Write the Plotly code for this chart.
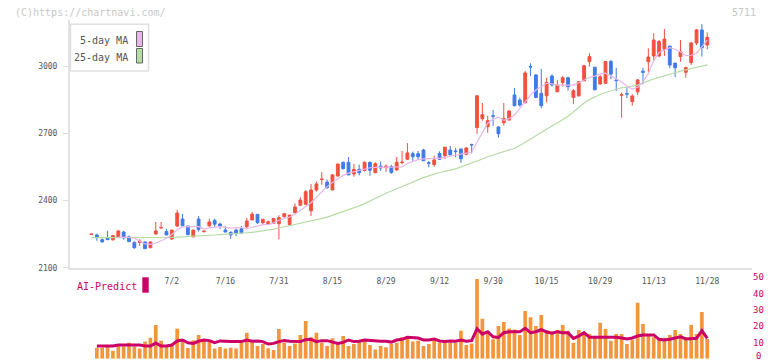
import plotly.graph_objects as go

# ---------------- data ----------------
dates = [
    "6/11", "6/12", "6/13", "6/16", "6/17", "6/18", "6/19", "6/20", "6/23", "6/24",
    "6/25", "6/26", "6/27", "6/30",
    "7/1", "7/2", "7/3", "7/4", "7/7", "7/8", "7/9", "7/10", "7/11", "7/14", "7/15",
    "7/16", "7/17", "7/18", "7/22", "7/23", "7/24", "7/25", "7/28", "7/29", "7/30", "7/31",
    "8/1", "8/4", "8/5", "8/6", "8/7", "8/8", "8/12", "8/13", "8/14", "8/15", "8/18",
    "8/19", "8/20", "8/21", "8/22", "8/25", "8/26", "8/27", "8/28", "8/29",
    "9/1", "9/2", "9/3", "9/4", "9/5", "9/8", "9/9", "9/10", "9/11", "9/12", "9/16",
    "9/17", "9/18", "9/19", "9/22", "9/24", "9/25", "9/26", "9/29", "9/30",
    "10/1", "10/2", "10/3", "10/6", "10/7", "10/8", "10/9", "10/10", "10/14", "10/15",
    "10/16", "10/17", "10/20", "10/21", "10/22", "10/23", "10/24", "10/27", "10/28",
    "10/29", "10/30", "10/31",
    "11/4", "11/5", "11/6", "11/7", "11/10", "11/11", "11/12", "11/13", "11/14",
    "11/17", "11/18", "11/19", "11/20", "11/21", "11/25", "11/26", "11/27", "11/28",
]

opens = [
    2248, 2246, 2225, 2234, 2225, 2237, 2259, 2238, 2213, 2213,
    2215, 2189, 2250, 2277, 2261, 2228, 2286, 2317, 2286, 2238,
    2317, 2261, 2287, 2311, 2295, 2268, 2258, 2268, 2274, 2283,
    2313, 2338, 2301, 2295, 2298, 2296, 2327, 2292, 2345, 2379,
    2383, 2354, 2447, 2493, 2482, 2447, 2509, 2570, 2570, 2518,
    2539, 2534, 2570, 2524, 2553, 2547, 2552, 2536, 2569, 2584,
    2609, 2609, 2625, 2568, 2560, 2610, 2600, 2625, 2621, 2630,
    2606, 2650, 2725, 2765, 2729, 2778, 2728, 2747, 2759, 2871,
    2848, 2836, 2998, 2960, 2878, 2867, 2955, 2885, 2926, 2948,
    2860, 2867, 2934, 3019, 2995, 2920, 2923, 3020, 2937, 2870,
    2877, 2841, 2885, 2977, 3019, 3045, 3045, 3075, 3089, 3013,
    3042, 2972, 3015, 3103, 3161, 3094,
]
highs = [
    2252, 2252, 2231, 2265, 2246, 2267, 2264, 2243, 2218, 2227,
    2215, 2215, 2304, 2304, 2274, 2268, 2359, 2340, 2286, 2268,
    2331, 2264, 2319, 2319, 2301, 2286, 2262, 2275, 2286, 2323,
    2349, 2338, 2316, 2310, 2322, 2334, 2345, 2335, 2387, 2414,
    2447, 2474, 2484, 2527, 2494, 2518, 2563, 2574, 2594, 2563,
    2560, 2574, 2574, 2571, 2574, 2561, 2559, 2594, 2621, 2656,
    2618, 2621, 2630, 2576, 2601, 2619, 2638, 2643, 2634, 2630,
    2638, 2653, 2871, 2835, 2778, 2804, 2732, 2835, 2804, 2902,
    2859, 2978, 3012, 2964, 2987, 2948, 2963, 2938, 2955, 2952,
    2897, 2933, 3005, 3057, 2995, 2960, 3022, 3027, 2992, 2881,
    2906, 2874, 2942, 2992, 3079, 3146, 3116, 3165, 3089, 3013,
    3116, 2997, 3108, 3165, 3188, 3150,
]
lows = [
    2246, 2220, 2213, 2225, 2220, 2234, 2225, 2216, 2185, 2198,
    2185, 2189, 2250, 2276, 2245, 2225, 2282, 2285, 2247, 2234,
    2261, 2257, 2283, 2282, 2273, 2259, 2229, 2240, 2250, 2273,
    2313, 2295, 2290, 2292, 2296, 2227, 2325, 2287, 2343, 2376,
    2381, 2331, 2439, 2470, 2452, 2445, 2506, 2538, 2514, 2506,
    2512, 2530, 2510, 2521, 2532, 2528, 2519, 2533, 2561, 2581,
    2577, 2581, 2577, 2548, 2551, 2581, 2585, 2601, 2593, 2568,
    2601, 2610, 2698, 2756, 2702, 2732, 2680, 2734, 2757, 2820,
    2818, 2834, 2955, 2856, 2811, 2838, 2908, 2883, 2908, 2890,
    2830, 2863, 2932, 2997, 2892, 2915, 2920, 2941, 2888, 2769,
    2857, 2823, 2871, 2918, 2972, 3019, 3039, 3045, 2990, 2950,
    3019, 2948, 3005, 3094, 3042, 3075,
]
closes = [
    2250, 2234, 2215, 2225, 2243, 2264, 2233, 2216, 2189, 2219,
    2185, 2215, 2264, 2279, 2246, 2268, 2344, 2287, 2247, 2268,
    2271, 2263, 2304, 2294, 2286, 2259, 2246, 2253, 2256, 2308,
    2339, 2301, 2316, 2305, 2319, 2323, 2341, 2335, 2371, 2402,
    2439, 2447, 2474, 2495, 2457, 2514, 2563, 2542, 2514, 2539,
    2524, 2570, 2535, 2564, 2545, 2553, 2525, 2571, 2571, 2612,
    2595, 2595, 2577, 2566, 2581, 2584, 2638, 2604, 2618, 2586,
    2634, 2648, 2867, 2783, 2756, 2776, 2698, 2765, 2799, 2823,
    2826, 2969, 2996, 2860, 2823, 2927, 2915, 2915, 2948, 2908,
    2890, 2930, 3001, 3042, 2894, 2952, 3020, 2964, 2935, 2872,
    2875, 2866, 2938, 2972, 3040, 3116, 3109, 3120, 3004, 2992,
    3064, 2993, 3103, 3161, 3082, 3128,
]

ma5 = [
    None, None, None, None, None, 2236, 2236, 2235, 2232, 2220,
    2206, 2204, 2210, 2220, 2231, 2248, 2270, 2282, 2284, 2283,
    2283, 2272, 2278, 2282, 2283, 2280, 2277, 2279, 2279, 2274,
    2280, 2288, 2292, 2292, 2300, 2312, 2318, 2326, 2338, 2355,
    2372, 2390, 2414, 2440, 2462, 2480, 2498, 2512, 2522, 2528,
    2536, 2543, 2546, 2548, 2548, 2548, 2548, 2548, 2550, 2565,
    2575, 2582, 2586, 2588, 2588, 2588, 2594, 2598, 2603, 2607,
    2611, 2615, 2660, 2705, 2745, 2762, 2772, 2758, 2765, 2781,
    2810, 2841, 2870, 2893, 2910, 2923, 2920, 2915, 2915, 2914,
    2915, 2925, 2938, 2950, 2955, 2965, 2968, 2955, 2945, 2930,
    2910, 2897, 2905, 2930, 2966, 3025, 3060, 3071, 3082, 3075,
    3064, 3046, 3048, 3057, 3085, 3116,
]
ma25 = [
    2234, 2234, 2233, 2233, 2233, 2232, 2232, 2232, 2232, 2232,
    2232, 2233, 2233, 2234, 2234, 2235, 2236, 2237, 2238, 2240,
    2242, 2243, 2244, 2246, 2248, 2249, 2251, 2253, 2254, 2256,
    2258, 2261, 2264, 2268, 2272, 2277, 2282, 2287, 2292, 2297,
    2302, 2308, 2314, 2320, 2326, 2334, 2342, 2350, 2358, 2366,
    2376, 2386, 2398, 2410, 2422, 2432, 2442, 2452, 2462, 2472,
    2483, 2494, 2502, 2510, 2518, 2525, 2530, 2535, 2541, 2550,
    2558, 2566, 2576, 2585, 2595, 2603, 2611, 2618, 2626, 2633,
    2645, 2660, 2675, 2690, 2705, 2718, 2732, 2746, 2760, 2776,
    2795, 2815, 2835, 2850, 2862, 2873, 2882, 2890, 2897, 2903,
    2906, 2909, 2915, 2925, 2935, 2942, 2949, 2957, 2964, 2970,
    2977, 2983, 2988, 2995, 3000, 3005,
]

ai_dates = dates[1:]
ai_bars = [
    6.8, 6.8, 8.0, 4.9, 7.6, 7.6, 9.8, 7.6, 6.2, 10.5,
    12.9, 20.7, 11.1, 7.8, 7.8, 18.4, 12.1, 6.6, 11.3, 14.6,
    11.1, 10.5, 6.2, 7.2, 6.2, 6.8, 6.2, 11.1, 16.0, 11.0,
    7.8, 9.0, 6.4, 5.3, 18.2, 9.8, 7.8, 9.4, 14.6, 23.2,
    13.1, 16.0, 9.8, 7.8, 12.5, 9.4, 14.0, 7.8, 9.0, 10.7,
    11.9, 8.4, 5.7, 7.8, 7.0, 9.0, 9.8, 13.1, 14.0, 10.5,
    11.1, 7.8, 9.0, 11.9, 9.8, 9.8, 9.8, 9.8, 17.2, 8.4,
    9.4, 48.9, 24.6, 16.6, 11.9, 20.1, 22.6, 18.6, 18.0, 14.6,
    29.3, 25.4, 20.1, 26.8, 17.6, 16.6, 17.6, 20.7, 17.2, 9.8,
    17.6, 15.2, 15.2, 13.9, 22.1, 18.2, 11.1, 15.2, 15.2, 9.0,
    11.5, 34.4, 21.3, 15.2, 13.1, 12.5, 12.9, 14.6, 17.6, 15.2,
    13.1, 20.7, 15.2, 28.7, 12.1,
]
ai_line = [
    7.8, 7.8, 7.8, 7.8, 8.4, 8.4, 8.4, 8.4, 8.4, 7.8,
    7.8, 9.6, 7.8, 7.8, 8.4, 10.9, 11.5, 9.8, 9.4, 10.7,
    11.5, 11.1, 9.8, 10.9, 10.5, 10.5, 10.5, 10.5, 11.5, 10.7,
    10.9, 10.5, 9.0, 9.4, 10.5, 11.1, 10.7, 10.5, 10.5, 11.7,
    11.9, 10.5, 11.1, 11.1, 10.2, 9.4, 10.0, 11.5, 10.5, 10.7,
    11.5, 11.1, 10.7, 10.7, 10.7, 10.2, 11.5, 11.9, 13.1, 13.1,
    12.7, 11.5, 11.5, 12.1, 10.9, 10.5, 10.9, 10.7, 11.5, 10.7,
    11.1, 18.4, 15.1, 16.6, 13.5, 13.1, 16.0, 16.6, 16.6, 16.6,
    18.7, 16.0, 16.6, 17.8, 16.4, 15.6, 16.6, 16.0, 16.0, 12.5,
    13.9, 16.0, 13.1, 13.1, 13.1, 13.5, 13.1, 13.1, 12.7, 12.1,
    12.7, 13.9, 14.6, 14.6, 14.6, 11.9, 11.5, 11.9, 12.5, 13.5,
    12.1, 12.1, 12.5, 17.2, 12.5,
]

tick_labels = ["7/2", "7/16", "7/31", "8/15", "8/29", "9/12", "9/30",
               "10/15", "10/29", "11/13", "11/28"]
price_ticks = [2100, 2400, 2700, 3000]
ai_ticks = [0, 10, 20, 30, 40, 50]

# ---------------- style ----------------
W, H = 772, 361
RED = "#f2503f"
BLUE = "#3f7be9"
PINK = "#e9b6ea"
GREEN = "#b6dca6"
ORANGE = "#f2963e"
MAGENTA = "#cc0066"
AXIS = "#e2e2e2"
TXT = "#555555"
MONO = "DejaVu Sans Mono"


def fx(px):
    return px / W


def fy(py):
    return 1 - py / H


XR = [-4.02, 123.36]

fig = go.Figure()

fig.add_trace(go.Scatter(x=dates, y=ma25, mode="lines", line=dict(color=GREEN, width=1.2),
                         xaxis="x", yaxis="y", hoverinfo="skip"))
fig.add_trace(go.Scatter(x=dates, y=ma5, mode="lines", line=dict(color=PINK, width=1.2),
                         xaxis="x", yaxis="y", hoverinfo="skip"))
fig.add_trace(go.Candlestick(
    x=dates, open=opens, high=highs, low=lows, close=closes,
    increasing=dict(line=dict(color=RED, width=1), fillcolor=RED),
    decreasing=dict(line=dict(color=BLUE, width=1), fillcolor=BLUE),
    whiskerwidth=0, xaxis="x", yaxis="y"))

fig.add_trace(go.Bar(x=ai_dates, y=ai_bars, marker=dict(color=ORANGE, line=dict(width=0)),
                     xaxis="x2", yaxis="y2"))
fig.add_trace(go.Scatter(x=ai_dates, y=ai_line, mode="lines",
                         line=dict(color=MAGENTA, width=3), xaxis="x2", yaxis="y2"))

shapes = [
    dict(type="rect", xref="paper", yref="paper", x0=fx(70.5), x1=fx(148.5),
         y0=fy(71), y1=fy(24.3), line=dict(color="#e0e0e0", width=1.5), fillcolor="white"),
    dict(type="rect", xref="paper", yref="paper", x0=fx(136.5), x1=fx(142.5),
         y0=fy(46.5), y1=fy(31.5), line=dict(color="#666666", width=1), fillcolor=PINK),
    dict(type="rect", xref="paper", yref="paper", x0=fx(136.5), x1=fx(142.5),
         y0=fy(63), y1=fy(48.5), line=dict(color="#666666", width=1), fillcolor=GREEN),
    dict(type="rect", xref="paper", yref="paper", x0=fx(142.3), x1=fx(148.7),
         y0=fy(292.7), y1=fy(277.3), line=dict(width=0), fillcolor=MAGENTA),
]

annotations = [
    dict(text="5-day MA", x=fx(130), y=fy(40.7), xref="paper", yref="paper",
         xanchor="right", yanchor="middle", showarrow=False,
         font=dict(family=MONO, size=10, color=TXT)),
    dict(text="25-day MA", x=fx(130), y=fy(57.3), xref="paper", yref="paper",
         xanchor="right", yanchor="middle", showarrow=False,
         font=dict(family=MONO, size=10, color=TXT)),
    dict(text="(C)https://chartnavi.com/", x=fx(13), y=fy(12.3), xref="paper", yref="paper",
         xanchor="left", yanchor="middle", showarrow=False,
         font=dict(family=MONO, size=10, color="#c8c8c8")),
    dict(text="5711", x=fx(758), y=fy(12.3), xref="paper", yref="paper",
         xanchor="right", yanchor="middle", showarrow=False,
         font=dict(family=MONO, size=10, color="#c8c8c8")),
    dict(text="AI-Predict", x=fx(75), y=fy(286), xref="paper", yref="paper",
         xanchor="left", yanchor="middle", showarrow=False,
         font=dict(family=MONO, size=10, color=MAGENTA)),
    # lowest tick label of the AI axis, lifted slightly so it is not clipped
    dict(text=str(ai_ticks[0]), x=fx(754), y=ai_ticks[0], xref="paper", yref="y2",
         xanchor="left", yanchor="bottom", yshift=-4, showarrow=False,
         font=dict(family=MONO, size=9, color=MAGENTA)),
]

fig.update_layout(
    width=W, height=H, margin=dict(l=0, r=0, t=0, b=0, autoexpand=False),
    paper_bgcolor="white", plot_bgcolor="white", showlegend=False,
    bargap=0.31, boxgap=0.25,
    shapes=shapes, annotations=annotations,
    xaxis=dict(domain=[fx(70), fx(752)], anchor="y", type="category",
               categoryorder="array", categoryarray=dates, range=XR,
               rangeslider=dict(visible=False), showgrid=False, zeroline=False,
               showline=True, linecolor=AXIS, linewidth=2, ticks="",
               tickvals=tick_labels, ticktext=tick_labels, ticklabelstandoff=5,
               tickfont=dict(family=MONO, size=8, color=TXT), automargin=False),
    xaxis3=dict(overlaying="x", anchor="y", range=[0, 11], tickvals=list(range(12)),
                ticks="inside", ticklen=4, tickwidth=2, tickcolor=AXIS,
                showticklabels=False, showgrid=False, zeroline=False, showline=False,
                automargin=False),
    xaxis4=dict(overlaying="x", anchor="y", range=[0, 11], tickvals=list(range(12)),
                ticks="outside", ticklen=2, tickwidth=2, tickcolor=AXIS,
                showticklabels=False, showgrid=False, zeroline=False, showline=False,
                automargin=False),
    yaxis=dict(domain=[fy(267.7), fy(20)], anchor="x", range=[2100, 3205.3],
               tickvals=price_ticks, ticks="outside", ticklen=5, tickcolor="#dddddd",
               showline=True, linecolor=AXIS, linewidth=2, showgrid=False, zeroline=False,
               tickfont=dict(family=MONO, size=8, color=TXT), ticklabelstandoff=4,
               automargin=False),
    xaxis2=dict(domain=[fx(70), fx(752)], anchor="y2", type="category",
                categoryorder="array", categoryarray=dates, range=XR,
                visible=False, automargin=False),
    yaxis2=dict(domain=[fy(358.7), fy(277.3)], anchor="x2", range=[0, 50], side="right",
                tickvals=ai_ticks[1:], ticks="", showgrid=False, zeroline=False,
                showline=False, tickfont=dict(family=MONO, size=9, color=MAGENTA),
                automargin=False),
)

fig.write_html(
    "out.html",
    config={"displayModeBar": False, "staticPlot": True},
    post_script="document.body.style.margin='0px';document.body.style.overflow='hidden';",
)
